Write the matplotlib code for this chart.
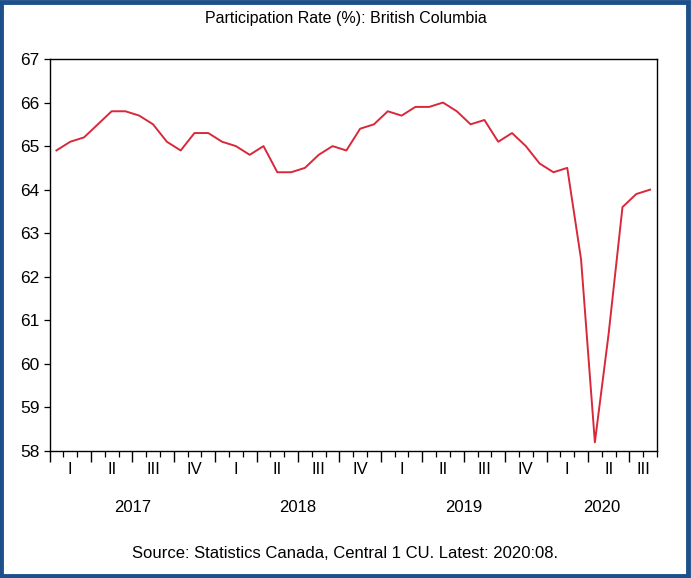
import numpy as np
import matplotlib
matplotlib.use("Agg")
import matplotlib.pyplot as plt
from matplotlib.patches import Rectangle

plt.rcParams['font.family'] = ['Liberation Sans', 'DejaVu Sans']

# monthly participation rate, 2017:01 .. 2020:08
rate = [64.9, 65.1, 65.2, 65.5, 65.8, 65.8, 65.7, 65.5, 65.1, 64.9, 65.3, 65.3,
        65.1, 65.0, 64.8, 65.0, 64.4, 64.4, 64.5, 64.8, 65.0, 64.9, 65.4, 65.5,
        65.8, 65.7, 65.9, 65.9, 66.0, 65.8, 65.5, 65.6, 65.1, 65.3, 65.0, 64.6,
        64.4, 64.5, 62.4, 58.2, 60.7, 63.6, 63.9, 64.0]
years = [2017, 2018, 2019, 2020]
quarters = ['I', 'II', 'III', 'IV']
yticks = [58, 59, 60, 61, 62, 63, 64, 65, 66, 67]

n = len(rate)
x = np.arange(n) + 0.5

fig = plt.figure(figsize=(6.91, 5.78), dpi=100)
ax = fig.add_axes([49.5/691, 1 - 451/578, (657 - 49.5)/691, (451 - 59)/578])

ax.plot(x, rate, color='#d9283a', lw=1.4)
ax.set_xlim(0, n)
ax.set_ylim(58, 67)
ax.set_yticks(yticks)
ax.tick_params(axis='y', labelsize=12.5, length=4, width=0.9, pad=3)

# month ticks (minor) and quarter ticks (major)
ax.set_xticks(np.arange(0, n + 1, 3))
ax.set_xticks(np.arange(0, n + 1), minor=True)
ax.tick_params(axis='x', which='major', length=8, width=1.0, labelbottom=False)
ax.tick_params(axis='x', which='minor', length=4.5, width=0.9)
for s in ax.spines.values():
    s.set_linewidth(1.0)

tr = ax.get_xaxis_transform()
for q in range(0, n, 3):
    end = min(q + 3, n)
    ax.text((q + end) / 2, -0.047, quarters[(q // 3) % 4], transform=tr,
            ha='center', va='center', fontsize=12)
for i, yr in enumerate(years):
    start = i * 12
    end = min(start + 12, n)
    ax.text((start + end) / 2, -0.145, str(yr), transform=tr,
            ha='center', va='center', fontsize=12)

fig.text(0.5, 1 - 18/578, 'Participation Rate (%): British Columbia',
         ha='center', va='center', fontsize=11.5)
fig.text(0.5, 1 - 553/578, 'Source: Statistics Canada, Central 1 CU. Latest: 2020:08.',
         ha='center', va='center', fontsize=12)

fig.patches.append(Rectangle((0.002, 0.003), 0.994, 0.994, transform=fig.transFigure,
                             fill=False, edgecolor='#1d4f8a', lw=3.5))

fig.savefig('out.png', dpi=100)
